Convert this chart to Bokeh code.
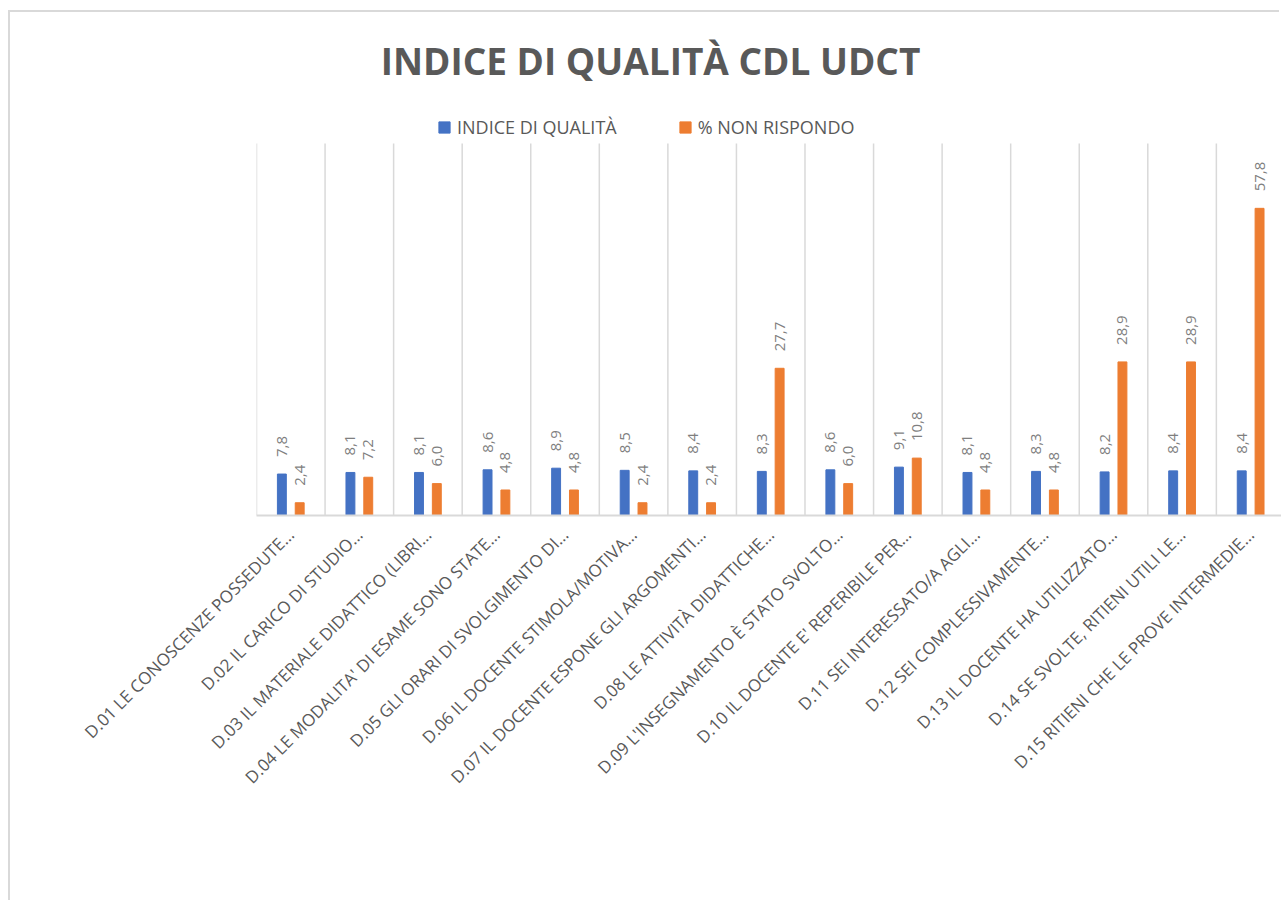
from math import pi
from bokeh.plotting import figure
from bokeh.models import ColumnDataSource, FixedTicker, Range1d, Label, Legend, LegendItem
from bokeh.transform import dodge
from bokeh.core.properties import value
from bokeh.embed import file_html
from bokeh.resources import INLINE

categories = [
    "D.01 LE CONOSCENZE POSSEDUTE…",
    "D.02 IL CARICO DI STUDIO…",
    "D.03 IL MATERIALE DIDATTICO (LIBRI…",
    "D.04 LE MODALITA' DI ESAME SONO STATE…",
    "D.05 GLI ORARI DI SVOLGIMENTO DI…",
    "D.06 IL DOCENTE STIMOLA/MOTIVA…",
    "D.07 IL DOCENTE ESPONE GLI ARGOMENTI…",
    "D.08 LE ATTIVITÀ DIDATTICHE…",
    "D.09 L'INSEGNAMENTO È STATO SVOLTO…",
    "D.10 IL DOCENTE E' REPERIBILE PER…",
    "D.11 SEI INTERESSATO/A AGLI…",
    "D.12 SEI COMPLESSIVAMENTE…",
    "D.13 IL DOCENTE HA UTILIZZATO…",
    "D.14 SE SVOLTE, RITIENI UTILI LE…",
    "D.15 RITIENI CHE LE PROVE INTERMEDIE…",
]
indice_qualita = [7.8, 8.1, 8.1, 8.6, 8.9, 8.5, 8.4, 8.3, 8.6, 9.1, 8.1, 8.3, 8.2, 8.4, 8.4]
non_rispondo = [2.4, 7.2, 6.0, 4.8, 4.8, 2.4, 2.4, 27.7, 6.0, 10.8, 4.8, 4.8, 28.9, 28.9, 57.8]
series_names = ["INDICE DI QUALITÀ", "% NON RISPONDO"]
title_text = "INDICE DI QUALITÀ CDL UDCT"
value_axis_max = 70  # top of the value axis (chart area)

BLUE = "#4472C4"
ORANGE = "#ED7D31"
GRID = "#d9d9d9"
FONT = "Open Sans"

def fmt(v):
    return f"{v:.1f}".replace(".", ",")

idx = list(range(len(categories)))
source = ColumnDataSource(dict(
    x=idx,
    indice=indice_qualita,
    nonr=non_rispondo,
    indice_lbl=[fmt(v) for v in indice_qualita],
    nonr_lbl=[fmt(v) for v in non_rispondo],
))

p = figure(
    width=1271, height=890,
    x_range=Range1d(-0.5, len(categories) - 0.55),
    y_range=Range1d(0, 94.65),
    y_axis_location=None,
    output_backend="svg", toolbar_location=None,
    min_border_left=246, min_border_right=0,
    min_border_top=0, min_border_bottom=387,
)
p.outline_line_color = None
p.background_fill_color = "white"
p.border_fill_color = "white"
p.styles = {"box-shadow": f"-2px -2px 0 0 {GRID}",
            "margin-top": "12px", "margin-left": "10px"}

# category separators (Excel-style vertical gridlines between categories)
bounds = [i - 0.5 for i in range(len(categories) + 1)]
p.segment(x0=bounds, x1=bounds, y0=[0] * len(bounds), y1=[value_axis_max] * len(bounds),
          line_color=GRID, line_width=1.5)
p.xgrid.visible = False
p.ygrid.visible = False

r1 = p.vbar(x=dodge("x", -0.13, range=p.x_range), top="indice", width=0.13,
            source=source, fill_color=BLUE, line_color=BLUE)
r2 = p.vbar(x=dodge("x", 0.13, range=p.x_range), top="nonr", width=0.13,
            source=source, fill_color=ORANGE, line_color=ORANGE)

for col, lbl, off in (("indice", "indice_lbl", -0.13), ("nonr", "nonr_lbl", 0.13)):
    p.text(x=dodge("x", off, range=p.x_range), y=col, text=lbl, source=source,
           angle=pi / 2, text_align="left", text_baseline="middle", y_offset=-17,
           text_font=value(FONT), text_font_size="15px", text_color="#7f7f7f")

# category axis
p.xaxis.ticker = FixedTicker(ticks=idx)
p.xaxis.major_label_overrides = {i: c for i, c in zip(idx, categories)}
p.xaxis.major_label_orientation = pi / 4
p.xaxis.major_tick_line_color = None
p.xaxis.minor_tick_line_color = None
p.xaxis.axis_line_color = GRID
p.xaxis.axis_line_width = 2
p.xaxis.major_label_text_font = FONT
p.xaxis.major_label_text_font_size = "17px"
p.xaxis.major_label_text_color = "#595959"
p.xaxis.major_label_standoff = 10

# title
p.add_layout(Label(x=394, y=455, x_units="screen", y_units="screen", text=title_text,
                   text_align="center", text_baseline="middle",
                   text_font=FONT, text_font_size="37px", text_font_style="bold",
                   text_color="#595959"))

# legend
legend = Legend(items=[LegendItem(label=series_names[0], renderers=[r1]),
                       LegendItem(label=series_names[1], renderers=[r2])],
                orientation="horizontal", location=(181, 376),
                glyph_width=14, glyph_height=14, label_standoff=6, spacing=61,
                padding=0, margin=0, border_line_color=None, background_fill_alpha=0,
                label_text_font=FONT, label_text_font_size="18px",
                label_text_color="#595959", label_height=18)
p.add_layout(legend, "center")

open("out.html", "w").write(file_html(p, INLINE))
